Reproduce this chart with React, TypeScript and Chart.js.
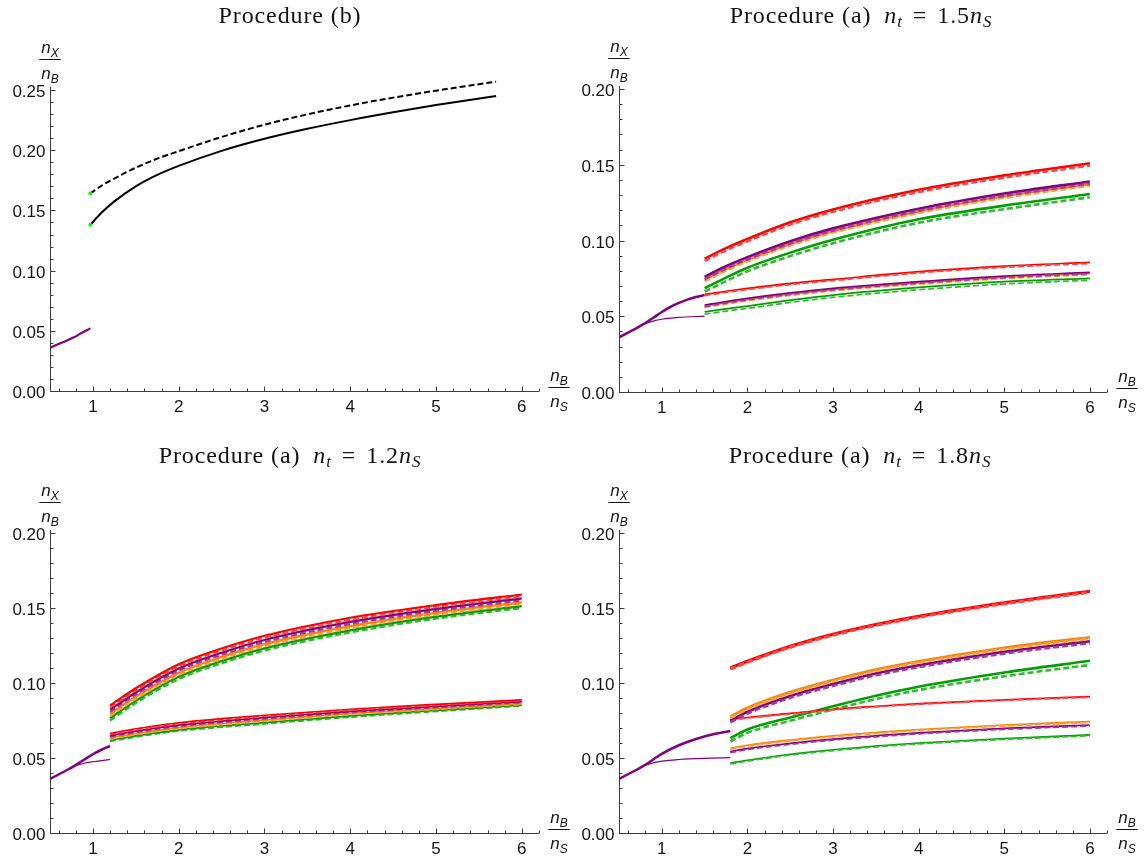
import React, { useEffect, useRef } from "react";
import { Chart, registerables } from "chart.js";
Chart.register(...registerables);

// ---------- colours ----------
const RED = "rgb(255,0,0)";
const RED_D = "rgb(255,70,70)";
const PURPLE = "rgb(128,0,128)";
const PURPLE_D = "rgb(160,60,160)";
const ORANGE = "rgb(255,128,0)";
const ORANGE_D = "rgb(255,160,60)";
const GREEN = "rgb(0,160,0)";
const GREEN_D = "rgb(50,185,50)";
const BLACK = "rgb(0,0,0)";
const DOT_GREEN = "rgb(0,255,0)";
const AXIS_COLOR = "rgb(60,60,60)";
const TEXT_COLOR = "rgb(20,20,20)";

// ---------- ticks / labels ----------
const X_MIN = 0.5;
const X_MAX = 6.2;
const xMajorTicks = [1, 2, 3, 4, 5, 6];
const xTickLabels = ["1", "2", "3", "4", "5", "6"];
const yTicksB = [0, 0.05, 0.1, 0.15, 0.2, 0.25];
const yTickLabelsB = ["0.00", "0.05", "0.10", "0.15", "0.20", "0.25"];
const yTicksA = [0, 0.05, 0.1, 0.15, 0.2];
const yTickLabelsA = ["0.00", "0.05", "0.10", "0.15", "0.20"];
const titleB = "Procedure (b)";
const titleA = "Procedure (a)";
const ntFactors = ["1.5", "1.2", "1.8"];

// ---------- panel 1 : Procedure (b) ----------
const p1PurpleX = [0.5, 0.6, 0.7, 0.78, 0.85, 0.97];
const p1PurpleY = [0.036, 0.039, 0.042, 0.0446, 0.0475, 0.052];
const p1BlackX = [0.97, 1.1, 1.25, 1.5, 1.75, 2, 2.5, 3, 3.5, 4, 4.5, 5, 5.7];
const p1BlackSolidY = [0.138, 0.148, 0.1575, 0.17, 0.1795, 0.187, 0.1995, 0.2095, 0.2178, 0.225, 0.2315, 0.2375, 0.245];
const p1BlackDashedY = [0.164, 0.1705, 0.1765, 0.1855, 0.193, 0.1992, 0.211, 0.2212, 0.2298, 0.2372, 0.2437, 0.2495, 0.257];
const p1DotX = [0.97, 0.97];
const p1DotY = [0.138, 0.164];

// ---------- panel 2 : n_t = 1.5 n_S ----------
const p2ThickX = [0.5, 0.6, 0.7, 0.78, 0.9, 1.0, 1.1, 1.2, 1.3, 1.4, 1.5];
const p2ThickY = [0.036, 0.039, 0.042, 0.0446, 0.049, 0.0528, 0.0562, 0.0588, 0.061, 0.0627, 0.064];
const p2ThinX = [0.78, 0.9, 1.0, 1.2, 1.5];
const p2ThinY = [0.0446, 0.0468, 0.048, 0.0492, 0.0501];
const p2X = [1.5, 1.75, 2, 2.5, 3, 4, 5, 6];
const p2RedHi = [0.088, 0.095, 0.101, 0.112, 0.1205, 0.1335, 0.143, 0.151];
const p2RedHiD = [0.0865, 0.0935, 0.0995, 0.1105, 0.119, 0.132, 0.1415, 0.1495];
const p2PurpleHi = [0.076, 0.083, 0.089, 0.0995, 0.108, 0.121, 0.131, 0.139];
const p2PurpleHiD = [0.0745, 0.0815, 0.0875, 0.098, 0.1065, 0.1195, 0.1295, 0.1375];
const p2OrangeHi = [0.0742, 0.0812, 0.0872, 0.0977, 0.1062, 0.1192, 0.1292, 0.1372];
const p2OrangeHiD = [0.0732, 0.0802, 0.0862, 0.0967, 0.1052, 0.1182, 0.1282, 0.1362];
const p2GreenHi = [0.0685, 0.0755, 0.082, 0.092, 0.1005, 0.114, 0.123, 0.1307];
const p2GreenHiD = [0.0662, 0.0732, 0.0797, 0.0897, 0.0982, 0.1117, 0.1207, 0.1285];
const p2RedLo = [0.0644, 0.0665, 0.0684, 0.0717, 0.0743, 0.0794, 0.0831, 0.0856];
const p2RedLoD = [0.0636, 0.0657, 0.0676, 0.0709, 0.0735, 0.0786, 0.0823, 0.0848];
const p2PurpleLo = [0.0573, 0.0597, 0.0618, 0.0654, 0.0684, 0.0728, 0.0765, 0.079];
const p2PurpleLoD = [0.0563, 0.0587, 0.0608, 0.0644, 0.0674, 0.0718, 0.0755, 0.078];
const p2OrangeLo = [0.0565, 0.0589, 0.061, 0.0646, 0.0676, 0.072, 0.0757, 0.0782];
const p2OrangeLoD = [0.0556, 0.058, 0.0601, 0.0637, 0.0667, 0.0711, 0.0748, 0.0773];
const p2GreenLo = [0.0529, 0.0549, 0.0567, 0.0606, 0.064, 0.069, 0.0728, 0.075];
const p2GreenLoD = [0.0514, 0.0534, 0.0552, 0.0591, 0.0625, 0.0675, 0.0713, 0.0738];

// ---------- panel 3 : n_t = 1.2 n_S ----------
const p3ThickX = [0.5, 0.6, 0.7, 0.78, 0.9, 1.0, 1.1, 1.2];
const p3ThickY = [0.036, 0.039, 0.042, 0.0446, 0.049, 0.0525, 0.0555, 0.058];
const p3ThinX = [0.78, 0.9, 1.0, 1.1, 1.2];
const p3ThinY = [0.0446, 0.0465, 0.0475, 0.0483, 0.049];
const p3X = [1.2, 1.5, 2, 2.5, 3, 4, 5, 6];
const p3RedHi = [0.085, 0.0965, 0.1125, 0.123, 0.1315, 0.1435, 0.152, 0.159];
const p3RedHiD = [0.0836, 0.0951, 0.1111, 0.1216, 0.1301, 0.1421, 0.1507, 0.1577];
const p3PurpleHi = [0.0822, 0.0937, 0.1097, 0.1202, 0.1287, 0.1407, 0.1494, 0.1564];
const p3PurpleHiD = [0.0808, 0.0923, 0.1083, 0.1188, 0.1273, 0.1393, 0.1481, 0.1551];
const p3OrangeHi = [0.0794, 0.0909, 0.1069, 0.1174, 0.1259, 0.1379, 0.1468, 0.1538];
const p3OrangeHiD = [0.078, 0.0895, 0.1055, 0.116, 0.1245, 0.1365, 0.1455, 0.1525];
const p3GreenHi = [0.0766, 0.0881, 0.1041, 0.1146, 0.1231, 0.1351, 0.1442, 0.1512];
const p3GreenHiD = [0.075, 0.0866, 0.1026, 0.1131, 0.1216, 0.1337, 0.1429, 0.15];
const p3RedLo = [0.0665, 0.0695, 0.0735, 0.0762, 0.0785, 0.0825, 0.0858, 0.0888];
const p3RedLoD = [0.0657, 0.0687, 0.0727, 0.0754, 0.0777, 0.0818, 0.0851, 0.0882];
const p3PurpleLo = [0.0649, 0.0679, 0.0719, 0.0746, 0.0769, 0.0811, 0.0844, 0.0876];
const p3PurpleLoD = [0.0641, 0.0671, 0.0711, 0.0738, 0.0761, 0.0804, 0.0837, 0.087];
const p3OrangeLo = [0.0633, 0.0663, 0.0703, 0.073, 0.0753, 0.0797, 0.0831, 0.0864];
const p3OrangeLoD = [0.0626, 0.0656, 0.0696, 0.0722, 0.0745, 0.079, 0.0824, 0.0858];
const p3GreenLo = [0.0618, 0.0648, 0.0688, 0.0714, 0.0736, 0.0781, 0.0817, 0.0853];
const p3GreenLoD = [0.061, 0.064, 0.068, 0.0705, 0.0727, 0.0772, 0.081, 0.0847];

// ---------- panel 4 : n_t = 1.8 n_S ----------
const p4ThickX = [0.5, 0.6, 0.7, 0.78, 0.9, 1.0, 1.2, 1.4, 1.6, 1.8];
const p4ThickY = [0.036, 0.039, 0.042, 0.0446, 0.049, 0.0528, 0.0585, 0.0627, 0.0658, 0.068];
const p4ThinX = [0.78, 0.9, 1.0, 1.2, 1.5, 1.8];
const p4ThinY = [0.0446, 0.0467, 0.0479, 0.049, 0.0498, 0.0502];
const p4X = [1.8, 2, 2.5, 3, 3.5, 4, 5, 6];
const p4RedHi = [0.11, 0.1145, 0.1245, 0.1325, 0.139, 0.1445, 0.1535, 0.1612];
const p4RedHiD = [0.1093, 0.1138, 0.1238, 0.1318, 0.1383, 0.1438, 0.1528, 0.1605];
const p4OrangeHi = [0.0776, 0.0835, 0.094, 0.102, 0.109, 0.1145, 0.1235, 0.1305];
const p4OrangeHiD = [0.0766, 0.0825, 0.093, 0.101, 0.108, 0.1135, 0.1225, 0.1295];
const p4PurpleHi = [0.0749, 0.0808, 0.0913, 0.0993, 0.1063, 0.1118, 0.1208, 0.1278];
const p4PurpleHiD = [0.0737, 0.0796, 0.0901, 0.0981, 0.1051, 0.1106, 0.1196, 0.1266];
const p4GreenHi = [0.0632, 0.069, 0.077, 0.0845, 0.0915, 0.0975, 0.107, 0.1148];
const p4GreenHiD = [0.061, 0.0668, 0.0748, 0.0823, 0.0893, 0.0953, 0.1045, 0.112];
const p4RedLo = [0.0756, 0.077, 0.0797, 0.0825, 0.0845, 0.0862, 0.0888, 0.0909];
const p4RedLoD = [0.0752, 0.0766, 0.0793, 0.0821, 0.0841, 0.0858, 0.0884, 0.0905];
const p4OrangeLo = [0.0565, 0.0585, 0.062, 0.0648, 0.067, 0.069, 0.072, 0.0743];
const p4OrangeLoD = [0.0558, 0.0578, 0.0613, 0.0641, 0.0663, 0.0683, 0.0713, 0.0736];
const p4PurpleLo = [0.0543, 0.0563, 0.0598, 0.0626, 0.0648, 0.0668, 0.0698, 0.072];
const p4PurpleLoD = [0.0536, 0.0556, 0.0591, 0.0619, 0.0641, 0.0661, 0.0691, 0.0713];
const p4GreenLo = [0.0466, 0.0485, 0.0525, 0.0555, 0.058, 0.06, 0.063, 0.0654];
const p4GreenLoD = [0.046, 0.0479, 0.0519, 0.0549, 0.0574, 0.0594, 0.0624, 0.0648];

// ---------- types / helpers ----------
type Curve = { xs: number[]; ys: number[]; color: string; width: number; dash?: number[]; dots?: boolean };
type Run = { text: string; it?: boolean; sub?: boolean; gapAfter?: number };
type Panel = {
  key: string;
  left: number; top: number; w: number; h: number;
  pad: { left: number; right: number; top: number; bottom: number };
  yMax: number; yAxisTop: number;
  yTicks: number[]; yLabels: string[];
  title: Run[]; titleX: number; titleY: number;
  curves: Curve[];
};

const DASH = [6, 3];
const c = (xs: number[], ys: number[], color: string, width: number, dash?: number[]): Curve => ({ xs, ys, color, width, dash });

const titleRunsA = (f: string): Run[] => [
  { text: titleA, gapAfter: 13 },
  { text: "n", it: true },
  { text: "t", it: true, sub: true, gapAfter: 10 },
  { text: "=", gapAfter: 10 },
  { text: f },
  { text: "n", it: true },
  { text: "S", it: true, sub: true },
];

const HI = 2.6;
const LO = 1.7;

const panels: Panel[] = [
  {
    key: "b", left: 0, top: 0, w: 574, h: 428,
    pad: { left: 50, right: 35, top: 78, bottom: 37 },
    yMax: 0.26, yAxisTop: 0.25, yTicks: yTicksB, yLabels: yTickLabelsB,
    title: [{ text: titleB }], titleX: 290, titleY: 23,
    curves: [
      c(p1PurpleX, p1PurpleY, PURPLE, 2.2),
      c(p1BlackX, p1BlackSolidY, BLACK, 2),
      c(p1BlackX, p1BlackDashedY, BLACK, 2, DASH),
      { xs: p1DotX, ys: p1DotY, color: DOT_GREEN, width: 0, dots: true },
    ],
  },
  {
    key: "a15", left: 574, top: 0, w: 574, h: 428,
    pad: { left: 45, right: 41, top: 89, bottom: 36 },
    yMax: 0.2, yAxisTop: 0.2, yTicks: yTicksA, yLabels: yTickLabelsA,
    title: titleRunsA(ntFactors[0]), titleX: 287, titleY: 23,
    curves: [
      c(p2ThinX, p2ThinY, PURPLE, 1.2),
      c(p2ThickX, p2ThickY, PURPLE, 2.5),
      c(p2X, p2GreenLo, GREEN, LO), c(p2X, p2GreenLoD, GREEN_D, LO, DASH),
      c(p2X, p2OrangeLo, ORANGE, LO), c(p2X, p2OrangeLoD, ORANGE_D, LO, DASH),
      c(p2X, p2PurpleLo, PURPLE, LO), c(p2X, p2PurpleLoD, PURPLE_D, LO, DASH),
      c(p2X, p2RedLo, RED, LO), c(p2X, p2RedLoD, RED_D, LO, DASH),
      c(p2X, p2GreenHi, GREEN, HI), c(p2X, p2GreenHiD, GREEN_D, HI, DASH),
      c(p2X, p2OrangeHi, ORANGE, HI), c(p2X, p2OrangeHiD, ORANGE_D, HI, DASH),
      c(p2X, p2PurpleHi, PURPLE, HI), c(p2X, p2PurpleHiD, PURPLE_D, HI, DASH),
      c(p2X, p2RedHi, RED, HI), c(p2X, p2RedHiD, RED_D, HI, DASH),
    ],
  },
  {
    key: "a12", left: 0, top: 428, w: 574, h: 429,
    pad: { left: 50, right: 35, top: 105, bottom: 24 },
    yMax: 0.2, yAxisTop: 0.2, yTicks: yTicksA, yLabels: yTickLabelsA,
    title: titleRunsA(ntFactors[1]), titleX: 290, titleY: 35,
    curves: [
      c(p3ThinX, p3ThinY, PURPLE, 1.2),
      c(p3ThickX, p3ThickY, PURPLE, 2.5),
      c(p3X, p3GreenLoD, GREEN_D, LO, DASH), c(p3X, p3GreenLo, GREEN, LO),
      c(p3X, p3OrangeLoD, ORANGE_D, LO, DASH), c(p3X, p3OrangeLo, ORANGE, LO),
      c(p3X, p3PurpleLoD, PURPLE_D, LO, DASH), c(p3X, p3PurpleLo, PURPLE, LO),
      c(p3X, p3RedLoD, RED_D, LO, DASH), c(p3X, p3RedLo, RED, LO),
      c(p3X, p3GreenHiD, GREEN_D, 2.2, DASH), c(p3X, p3GreenHi, GREEN, 2.2),
      c(p3X, p3OrangeHiD, ORANGE_D, 2.2, DASH), c(p3X, p3OrangeHi, ORANGE, 2.2),
      c(p3X, p3PurpleHiD, PURPLE_D, 2.2, DASH), c(p3X, p3PurpleHi, PURPLE, 2.2),
      c(p3X, p3RedHiD, RED_D, 2.2, DASH), c(p3X, p3RedHi, RED, 2.2),
    ],
  },
  {
    key: "a18", left: 574, top: 428, w: 574, h: 429,
    pad: { left: 45, right: 41, top: 105, bottom: 24 },
    yMax: 0.2, yAxisTop: 0.2, yTicks: yTicksA, yLabels: yTickLabelsA,
    title: titleRunsA(ntFactors[2]), titleX: 286, titleY: 35,
    curves: [
      c(p4ThinX, p4ThinY, PURPLE, 1.2),
      c(p4ThickX, p4ThickY, PURPLE, 2.5),
      c(p4X, p4GreenLo, GREEN, LO), c(p4X, p4GreenLoD, GREEN_D, LO, DASH),
      c(p4X, p4PurpleLo, PURPLE, LO), c(p4X, p4PurpleLoD, PURPLE_D, LO, DASH),
      c(p4X, p4OrangeLo, ORANGE, LO), c(p4X, p4OrangeLoD, ORANGE_D, LO, DASH),
      c(p4X, p4GreenHi, GREEN, HI), c(p4X, p4GreenHiD, GREEN_D, HI, DASH),
      c(p4X, p4RedLo, RED, LO), c(p4X, p4RedLoD, RED_D, LO, DASH),
      c(p4X, p4PurpleHi, PURPLE, HI), c(p4X, p4PurpleHiD, PURPLE_D, HI, DASH),
      c(p4X, p4OrangeHi, ORANGE, HI), c(p4X, p4OrangeHiD, ORANGE_D, HI, DASH),
      c(p4X, p4RedHi, RED, 3), c(p4X, p4RedHiD, RED_D, 3, DASH),
    ],
  },
];

// ---------- drawing helpers ----------
const TICK_FONT = '17px "Liberation Sans", Arial, sans-serif';
const LBL_FONT = 'italic 17px "Liberation Sans", Arial, sans-serif';
const LBL_SUB_FONT = 'italic 12px "Liberation Sans", Arial, sans-serif';

function drawFrac(ctx: CanvasRenderingContext2D, cx: number, lineY: number, num: [string, string], den: [string, string]) {
  const part = (pair: [string, string], baseY: number) => {
    ctx.font = LBL_FONT;
    const w1 = ctx.measureText(pair[0]).width;
    ctx.font = LBL_SUB_FONT;
    const w2 = ctx.measureText(pair[1]).width;
    const x0 = cx - (w1 + w2) / 2;
    ctx.font = LBL_FONT;
    ctx.fillText(pair[0], x0, baseY);
    ctx.font = LBL_SUB_FONT;
    ctx.fillText(pair[1], x0 + w1, baseY + 3.5);
    return w1 + w2;
  };
  ctx.textAlign = "left";
  ctx.textBaseline = "alphabetic";
  const wn = part(num, lineY - 6);
  const wd = part(den, lineY + 20);
  const L = Math.max(wn, wd) + 4;
  ctx.beginPath();
  ctx.moveTo(cx - L / 2, Math.round(lineY) + 0.5);
  ctx.lineTo(cx + L / 2, Math.round(lineY) + 0.5);
  ctx.lineWidth = 1;
  ctx.strokeStyle = TEXT_COLOR;
  ctx.stroke();
}

function drawTitle(ctx: CanvasRenderingContext2D, cx: number, baseY: number, runs: Run[]) {
  const fontOf = (r: Run) => `${r.it ? "italic " : ""}${r.sub ? 17 : 24}px "Liberation Serif", "Times New Roman", serif`;
  ctx.save();
  (ctx as any).letterSpacing = "0.9px";
  ctx.textAlign = "left";
  ctx.textBaseline = "alphabetic";
  ctx.fillStyle = TEXT_COLOR;
  const widths = runs.map((r) => {
    ctx.font = fontOf(r);
    return ctx.measureText(r.text).width + (r.gapAfter || 0);
  });
  const total = widths.reduce((a, b) => a + b, 0);
  let x = cx - total / 2;
  runs.forEach((r, i) => {
    ctx.font = fontOf(r);
    ctx.fillText(r.text, x, baseY + (r.sub ? 4 : 0));
    x += widths[i];
  });
  ctx.restore();
}

function makePlugin(p: Panel) {
  return {
    id: "mmaAxes_" + p.key,
    beforeDatasetsDraw(chart: any) {
      const ctx: CanvasRenderingContext2D = chart.ctx;
      const xs = chart.scales.x;
      const ys = chart.scales.y;
      const ax = Math.round(xs.getPixelForValue(X_MIN)) + 0.5;
      const ay = Math.round(ys.getPixelForValue(0)) + 0.5;
      const xEnd = xs.getPixelForValue(X_MAX);
      const yEnd = ys.getPixelForValue(p.yAxisTop) - 3;
      ctx.save();
      ctx.strokeStyle = AXIS_COLOR;
      ctx.lineWidth = 1;
      ctx.beginPath();
      ctx.moveTo(ax - 0.5, ay);
      ctx.lineTo(xEnd, ay);
      ctx.moveTo(ax, ay + 0.5);
      ctx.lineTo(ax, yEnd);
      for (let k = 3; k <= 31; k++) {
        const v = k * 0.2;
        const major = Math.abs(v - Math.round(v)) < 1e-6;
        const px = Math.round(xs.getPixelForValue(v)) + 0.5;
        ctx.moveTo(px, ay);
        ctx.lineTo(px, ay - (major ? 5 : 3));
      }
      const n = Math.round(p.yAxisTop / 0.01);
      for (let k = 1; k <= n; k++) {
        const major = k % 5 === 0;
        const py = Math.round(ys.getPixelForValue(k * 0.01)) + 0.5;
        ctx.moveTo(ax, py);
        ctx.lineTo(ax + (major ? 5 : 3), py);
      }
      ctx.stroke();
      ctx.restore();
    },
    afterDraw(chart: any) {
      const ctx: CanvasRenderingContext2D = chart.ctx;
      const xs = chart.scales.x;
      const ys = chart.scales.y;
      const ax = xs.getPixelForValue(X_MIN);
      const ay = ys.getPixelForValue(0);
      ctx.save();
      ctx.fillStyle = TEXT_COLOR;
      ctx.font = TICK_FONT;
      ctx.textBaseline = "alphabetic";
      ctx.textAlign = "center";
      xMajorTicks.forEach((v, i) => ctx.fillText(xTickLabels[i], xs.getPixelForValue(v), ay + 21));
      ctx.textAlign = "right";
      p.yTicks.forEach((v, i) => ctx.fillText(p.yLabels[i], ax - 4.5, ys.getPixelForValue(v) + 7));
      drawFrac(ctx, ax, ys.getPixelForValue(p.yAxisTop) - 31, ["n", "X"], ["n", "B"]);
      drawFrac(ctx, xs.getPixelForValue(X_MAX) + 20, ay - 4, ["n", "B"], ["n", "S"]);
      ctx.restore();
      drawTitle(ctx, p.titleX, p.titleY, p.title);
    },
  };
}

function buildConfig(p: Panel): any {
  const datasets = p.curves.map((cv) => ({
    data: cv.xs.map((x, i) => ({ x, y: cv.ys[i] })),
    borderColor: cv.color,
    backgroundColor: cv.color,
    borderWidth: cv.width,
    borderDash: cv.dash || [],
    borderCapStyle: "butt",
    showLine: !cv.dots,
    pointRadius: cv.dots ? 2 : 0,
    pointBorderWidth: 0,
    pointBackgroundColor: cv.color,
    cubicInterpolationMode: "monotone",
    fill: false,
  }));
  return {
    type: "line",
    data: { datasets: datasets.reverse() },
    options: {
      animation: false,
      responsive: false,
      devicePixelRatio: 1,
      events: [],
      layout: { padding: p.pad },
      plugins: { legend: { display: false }, tooltip: { enabled: false }, title: { display: false } },
      scales: {
        x: { type: "linear", min: X_MIN, max: X_MAX, display: false },
        y: { type: "linear", min: 0, max: p.yMax, display: false },
      },
    },
    plugins: [makePlugin(p)],
  };
}

function PanelChart({ p }: { p: Panel }) {
  const ref = useRef<HTMLCanvasElement>(null);
  useEffect(() => {
    if (!ref.current) return;
    const chart = new Chart(ref.current, buildConfig(p));
    return () => chart.destroy();
  }, [p]);
  return (
    <canvas
      ref={ref}
      width={p.w}
      height={p.h}
      style={{ position: "absolute", left: p.left, top: p.top, width: p.w, height: p.h }}
    />
  );
}

export default function App() {
  return (
    <div style={{ position: "absolute", left: 0, top: 0, width: 1148, height: 857, background: "#fff", overflow: "hidden" }}>
      {panels.map((p) => (
        <PanelChart key={p.key} p={p} />
      ))}
    </div>
  );
}
